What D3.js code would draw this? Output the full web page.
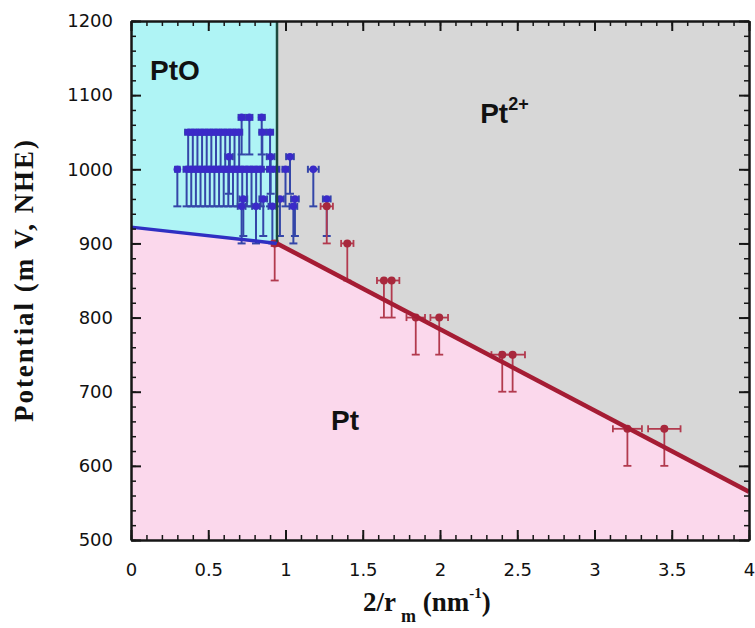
<!DOCTYPE html>
<meta charset="utf-8">
<style>
  body { margin: 0; background: #fff; }
  .axis .tick text { font-family: "DejaVu Sans", sans-serif; font-size: 18px; fill: #111; }
  .axis path, .axis line { stroke: #161616; }
  .title { font-family: "Liberation Serif", "Times New Roman", serif; font-weight: bold; font-size: 27px; fill: #111; }
  .region { font-family: "Liberation Sans", Arial, sans-serif; font-weight: bold; font-size: 28px; fill: #111; }
</style>
<svg width="755" height="628"></svg>
<script src="https://cdnjs.cloudflare.com/ajax/libs/d3/7.8.5/d3.min.js"></script>
<script>

var xTicks = [0, 0.5, 1, 1.5, 2, 2.5, 3, 3.5, 4],
    yTicks = [500, 600, 700, 800, 900, 1000, 1100, 1200];

// phase boundary corners: PtO/Pt line then Pt2+/Pt line
var edgeX = [0, 0.945, 4],
    edgeY = [922, 900, 565];

// PtO points (blue)
var blueX = [0.716, 0.766, 0.846,
             0.37, 0.40, 0.43, 0.46, 0.49, 0.52, 0.55, 0.58, 0.61, 0.64, 0.67, 0.70, 0.85, 0.90,
             0.634, 0.904, 1.029,
             0.30, 0.36, 0.39, 0.42, 0.45, 0.48, 0.51, 0.54, 0.57, 0.60, 0.63, 0.66, 0.69, 0.72, 0.75, 0.78, 0.81, 0.84, 0.90, 0.94, 1.00, 1.18,
             0.727, 0.856, 0.964, 1.061, 1.267,
             0.716, 0.809, 0.915, 1.051],
    blueY = [1070, 1070, 1070,
             1050, 1050, 1050, 1050, 1050, 1050, 1050, 1050, 1050, 1050, 1050, 1050, 1050, 1050,
             1017, 1017, 1017,
             1000, 1000, 1000, 1000, 1000, 1000, 1000, 1000, 1000, 1000, 1000, 1000, 1000, 1000, 1000, 1000, 1000, 1000, 1000, 1000, 1000, 1000,
             960, 960, 960, 960, 960,
             950, 950, 950, 950],
    blueXErr = [0.02, 0.02, 0.02,
                0.02, 0.02, 0.02, 0.02, 0.02, 0.02, 0.02, 0.02, 0.02, 0.02, 0.02, 0.02, 0.02, 0.02,
                0.025, 0.025, 0.025,
                0.015, 0.02, 0.02, 0.02, 0.02, 0.02, 0.02, 0.02, 0.02, 0.02, 0.02, 0.02, 0.02, 0.02, 0.02, 0.02, 0.02, 0.02, 0.02, 0.02, 0.02, 0.035,
                0.025, 0.025, 0.025, 0.025, 0.025,
                0.025, 0.025, 0.025, 0.025];

// Pt2+ points (red)
var redX = [0.93, 1.267, 1.40, 1.637, 1.687, 1.843, 1.995, 2.403, 2.47, 3.213, 3.452],
    redY = [900, 950, 900, 850, 850, 800, 800, 750, 750, 650, 650],
    redXErr = [0.02, 0.04, 0.04, 0.045, 0.05, 0.06, 0.057, 0.07, 0.08, 0.094, 0.105];

var yErrDown = 50;

var svg = d3.select("svg"),
    mLeft = 131, mRight = 749, mTop = 21, mBottom = 540;

var x = d3.scaleLinear().domain([0, 4]).range([mLeft, mRight]);
var y = d3.scaleLinear().domain([500, 1200]).range([mBottom, mTop]);

var corners = edgeX.map(function(d, i) { return [d, edgeY[i]]; });

function poly(pts) {
  return "M" + pts.map(function(p) { return x(p[0]) + "," + y(p[1]); }).join("L") + "Z";
}

// phase regions
svg.append("path").attr("fill", "#fbd8ec")
    .attr("d", poly([corners[0], corners[1], corners[2], [4, 500], [0, 500]]));
svg.append("path").attr("fill", "#aff4f5")
    .attr("d", poly([[0, 1200], [edgeX[1], 1200], corners[1], corners[0]]));
svg.append("path").attr("fill", "#d7d7d7")
    .attr("d", poly([[edgeX[1], 1200], [4, 1200], corners[2], corners[1]]));

function errorSet(xs, ys, xe, barColor, dotColor, r, w) {
  var data = xs.map(function(d, i) { return {x: d, y: ys[i], e: xe[i]}; });
  var g = svg.append("g").attr("stroke", barColor).attr("stroke-width", w);
  data.forEach(function(d) {
    var px = x(d.x), py = y(d.y), lo = y(d.y - yErrDown);
    g.append("line").attr("x1", px).attr("x2", px).attr("y1", py).attr("y2", lo);
    g.append("line").attr("x1", px - 4).attr("x2", px + 4).attr("y1", lo).attr("y2", lo);
    g.append("line").attr("x1", x(d.x - d.e)).attr("x2", x(d.x + d.e)).attr("y1", py).attr("y2", py);
    g.append("line").attr("x1", x(d.x - d.e)).attr("x2", x(d.x - d.e)).attr("y1", py - 3.5).attr("y2", py + 3.5);
    g.append("line").attr("x1", x(d.x + d.e)).attr("x2", x(d.x + d.e)).attr("y1", py - 3.5).attr("y2", py + 3.5);
  });
  svg.append("g").selectAll("circle").data(data).enter().append("circle")
      .attr("cx", function(d) { return x(d.x); })
      .attr("cy", function(d) { return y(d.y); })
      .attr("r", r)
      .attr("fill", dotColor);
}

errorSet(blueX, blueY, blueXErr, "#3446a8", "#3a2ac8", 3.8, 2);
errorSet(redX, redY, redXErr, "#b23a4e", "#a8283c", 4, 1.8);

// boundary lines
svg.append("line")
    .attr("x1", x(edgeX[1])).attr("x2", x(edgeX[1]))
    .attr("y1", y(1200)).attr("y2", y(edgeY[1]))
    .attr("stroke", "#1d4a3e").attr("stroke-width", 2.5);
svg.append("line")
    .attr("x1", x(edgeX[0])).attr("y1", y(edgeY[0]))
    .attr("x2", x(edgeX[1])).attr("y2", y(edgeY[1]))
    .attr("stroke", "#2f2fc2").attr("stroke-width", 3.5);
svg.append("line")
    .attr("x1", x(edgeX[1])).attr("y1", y(edgeY[1]))
    .attr("x2", x(edgeX[2])).attr("y2", y(edgeY[2]))
    .attr("stroke", "#a51c34").attr("stroke-width", 4.5);

// axes, ticks inward on all sides
var xMinor = d3.range(0, 4.001, 0.1), yMinor = d3.range(500, 1200.1, 20);

function addAxis(axisFn, scale, tr, majors, minors, labels) {
  svg.append("g").attr("class", "axis").attr("transform", tr)
      .call(axisFn(scale).tickValues(minors).tickSizeInner(-5).tickSizeOuter(0).tickFormat(""))
      .call(function(g) { g.selectAll("line").attr("stroke-width", 1.5); g.select(".domain").attr("stroke-width", 2); });
  var a = svg.append("g").attr("class", "axis").attr("transform", tr)
      .call(axisFn(scale).tickValues(majors).tickSizeInner(-10).tickSizeOuter(0)
        .tickPadding(labels ? 18 : 0).tickFormat(labels ? function(d) { return d; } : ""));
  a.selectAll("line").attr("stroke-width", 2);
  a.select(".domain").attr("stroke-width", 2);
  return a;
}

addAxis(d3.axisBottom, x, "translate(0," + mBottom + ")", xTicks, xMinor, true)
    .selectAll("text").attr("dy", "0.85em").attr("y", 21);
addAxis(d3.axisTop, x, "translate(0," + mTop + ")", xTicks, xMinor, false);
addAxis(d3.axisLeft, y, "translate(" + mLeft + ",0)", yTicks, yMinor, true)
    .selectAll("text").attr("x", -18);
addAxis(d3.axisRight, y, "translate(" + mRight + ",0)", yTicks, yMinor, false);

// region labels
svg.append("text").attr("class", "region").attr("x", x(0.123)).attr("y", y(1120)).text("PtO");
svg.append("text").attr("class", "region").attr("x", x(1.295)).attr("y", y(648)).text("Pt");
var p2 = svg.append("text").attr("class", "region").attr("x", x(2.26)).attr("y", y(1062)).text("Pt");
p2.append("tspan").attr("dy", -13).style("font-size", "18px").text("2+");

// axis titles
svg.append("text").attr("class", "title")
    .attr("transform", "translate(33,281) rotate(-90)")
    .attr("text-anchor", "middle")
    .attr("textLength", 282).attr("lengthAdjust", "spacing")
    .text("Potential (m V, NHE)");

var xt = svg.append("text").attr("class", "title").attr("x", 363).attr("y", 611).text("2/r");
xt.append("tspan").attr("dx", 5).attr("dy", 11).style("font-size", "18px").text("m");
xt.append("tspan").attr("dy", -11).text(" (nm");
xt.append("tspan").attr("dy", -13).style("font-size", "15px").text("-1");
xt.append("tspan").attr("dy", 13).text(")");

</script>
